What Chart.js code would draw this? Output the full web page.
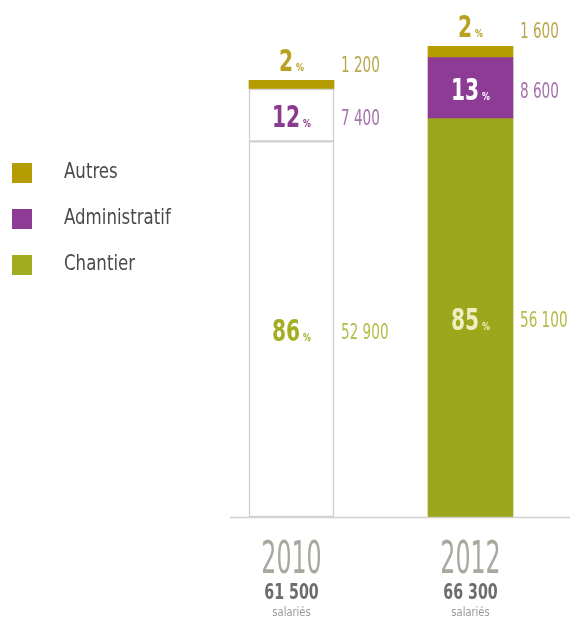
<!DOCTYPE html>
<html>
<head>
<meta charset="utf-8">
<script src="https://cdn.jsdelivr.net/npm/chart.js@4"></script>
<style>
  html, body { margin: 0; padding: 0; background: #fff; }
  #wrap { width: 570px; height: 626px; }
</style>
</head>
<body>
<div id="wrap"><canvas id="chart" width="570" height="626"></canvas></div>
<script>
const years = ["2010", "2012"];
const chantier = [52900, 56100];
const administratif = [7400, 8600];
const autres = [1200, 1600];

const FONT = '"DejaVu Sans Condensed", "DejaVu Sans", sans-serif';
const GOLD = "#b59c00";
const PURPLE = "#8e3b95";
const OLIVE = "#9ca71b";

const totals = years.map((y, i) => chantier[i] + administratif[i] + autres[i]);
const fmt = (n) => String(n).replace(/\B(?=(\d{3})+(?!\d))/g, " ");

// label colours: pct inside [2010, 2012], value text
const labelStyle = {
  Chantier: { pct: ["#a3ae22", "#eef0c4"], val: "#b3bb45" },
  Administratif: { pct: ["#8a3a8f", "#ffffff"], val: "#a472ab" },
  Autres: { pct: ["#b8a020", "#b8a020"], val: "#bba84c" },
};

// squeezed text, the source uses a narrow DIN-like face
function txt(c, s, x, y, font, color, align, sx) {
  c.save();
  c.translate(x, y);
  c.scale(sx, 1);
  c.font = font;
  c.fillStyle = color;
  c.textAlign = align;
  c.fillText(s, 0, 0);
  c.restore();
}
function width(c, s, font, sx) {
  c.font = font;
  return c.measureText(s).width * sx;
}

const labelsPlugin = {
  id: "labels",
  afterDatasetsDraw(chart) {
    const c = chart.ctx;
    c.save();
    c.textBaseline = "middle";
    chart.data.datasets.forEach((ds, di) => {
      const meta = chart.getDatasetMeta(di);
      meta.data.forEach((bar, i) => {
        const st = labelStyle[ds.label];
        const pct = String(Math.round((ds.data[i] / totals[i]) * 100));
        const above = ds.label === "Autres";
        const y = above ? bar.y - 17 : (bar.y + bar.base) / 2 + 4;
        const big = "bold 30px " + FONT;
        const small = "bold 11px " + FONT;
        const w1 = width(c, pct, big, 0.75);
        const w2 = width(c, "%", small, 0.8);
        const x0 = bar.x - (w1 + w2 + 3) / 2;
        txt(c, pct, x0, y, big, st.pct[i], "left", 0.75);
        txt(c, "%", x0 + w1 + 3, y + 5, small, st.pct[i], "left", 0.8);
        txt(c, fmt(ds.data[i]), bar.x + bar.width / 2 + 7, above ? y + 3 : y,
          "21px " + FONT, st.val, "left", 0.72);
      });
    });
    // x labels
    const xs = chart.scales.x;
    const bottom = chart.chartArea.bottom;
    c.textBaseline = "alphabetic";
    years.forEach((yr, i) => {
      const x = xs.getPixelForValue(i);
      txt(c, yr, x, bottom + 56, "44px " + FONT, "#a8a89f", "center", 0.6);
      txt(c, fmt(totals[i]), x, bottom + 82, "bold 22px " + FONT, "#6d6d6d", "center", 0.72);
      txt(c, "salariés", x, bottom + 99, "13px " + FONT, "#9a9a9a", "center", 0.85);
    });
    // baseline
    c.strokeStyle = "#d2d2cc";
    c.lineWidth = 1.5;
    c.beginPath();
    c.moveTo(chart.chartArea.left + 28, bottom + 0.5);
    c.lineTo(chart.width, bottom + 0.5);
    c.stroke();
    // legend (top series first)
    c.textBaseline = "middle";
    chart.data.datasets.slice().reverse().forEach((ds, k) => {
      const y = 163 + k * 46;
      c.fillStyle = ds.legendColor;
      c.fillRect(12, y, 20, 20);
      txt(c, ds.label, 64, y + 10, "21px " + FONT, "#4a4a4a", "left", 0.88);
    });
    c.restore();
  },
};

new Chart(document.getElementById("chart"), {
  type: "bar",
  data: {
    labels: years,
    datasets: [
      {
        label: "Chantier",
        data: chantier,
        legendColor: "#a0ab1d",
        backgroundColor: ["#ffffff", OLIVE],
        borderColor: ["#cfcfcf", OLIVE],
        borderWidth: [1.5, 0],
        borderSkipped: false,
      },
      {
        label: "Administratif",
        data: administratif,
        legendColor: PURPLE,
        backgroundColor: ["#ffffff", PURPLE],
        borderColor: ["#cfcfcf", PURPLE],
        borderWidth: [1.5, 0],
        borderSkipped: false,
      },
      {
        label: "Autres",
        data: autres,
        legendColor: GOLD,
        backgroundColor: [GOLD, GOLD],
        borderWidth: 0,
      },
    ],
  },
  options: {
    responsive: false,
    animation: false,
    layout: { padding: { left: 202, right: 10, top: 20, bottom: 109 } },
    plugins: { legend: { display: false }, tooltip: { enabled: false } },
    datasets: { bar: { barThickness: 85 } },
    scales: {
      x: { stacked: true, display: false },
      y: { stacked: true, display: false, min: 0, max: 70000 },
    },
  },
  plugins: [labelsPlugin],
});
</script>
</body>
</html>
